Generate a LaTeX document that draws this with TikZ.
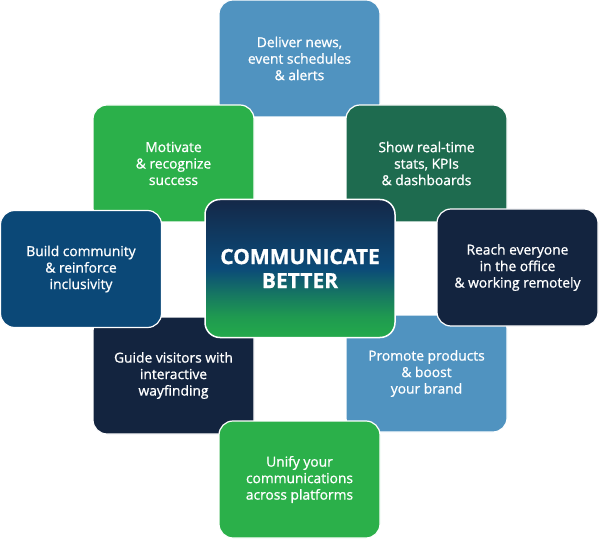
\documentclass[tikz,border=0pt]{standalone}
\usepackage{fontspec}
\setmainfont{Open Sans}
\newfontfamily\boxfont{Open Sans}[FakeBold=1]
\newfontfamily\hubfont{Open Sans Bold}[FakeBold=0.8]
\definecolor{lblue}{HTML}{5093C0}
\definecolor{lgreen}{HTML}{2BB04A}
\definecolor{dgreen}{HTML}{1E6B4F}
\definecolor{dblue}{HTML}{0B4877}
\definecolor{navy}{HTML}{13243F}
\definecolor{cTop}{HTML}{142848}
\definecolor{cMid}{HTML}{0B4A78}
\definecolor{cTeal}{HTML}{177A60}
\definecolor{cGr}{HTML}{1F9A50}
\definecolor{cBot}{HTML}{24AA4B}
\pgfdeclareverticalshading{centershade}{100bp}{color(0bp)=(cBot); color(25bp)=(cBot); color(32.5bp)=(cGr); color(40bp)=(cTeal); color(50bp)=(cMid); color(75bp)=(cTop); color(100bp)=(cTop)}
\begin{document}
\begin{tikzpicture}[x=1pt,y=-1pt,
  card/.style={draw=white, line width=1.2pt, rounded corners=14pt,
    minimum width=161pt, minimum height=117pt, text=white, align=center,
    font=\boxfont\fontsize{13.8}{16.5}\selectfont, inner sep=0pt},
  hub/.style={draw=white, line width=1.5pt, rounded corners=15pt,
    minimum width=190pt, minimum height=138pt, text=white, align=center,
    shading=centershade, inner sep=0pt,
    font=\hubfont\fontsize{21}{24}\selectfont}]
\useasboundingbox (0,0) rectangle (600,540);
\node[card, fill=lblue] (deliver) at (299.5,58.5) {Deliver news,\\event schedules\\\& alerts};
\node[card, fill=dgreen] (show) at (426.5,163.5) {Show real-time\\stats, KPIs\\\& dashboards};
\node[card, fill=lgreen] (motivate) at (173.5,163.5) {Motivate\\\& recognize\\success};
\node[card, fill=navy] (guide) at (173.5,375.5) {Guide visitors with\\interactive\\wayfinding};
\node[card, fill=lblue] (promote) at (426.5,373.5) {Promote products\\\& boost\\your brand};
\node[card, fill=dblue] (build) at (81,269) {Build community\\\& reinforce\\inclusivity};
\node[card, fill=navy] (reach) at (517.5,267.5) {Reach everyone\\in the office\\\& working remotely};
\node[card, fill=lgreen] (unify) at (299.5,479.5) {Unify your\\communications\\across platforms};
\node[hub] (center) at (300,268.5) {COMMUNICATE\\BETTER};
\end{tikzpicture}
\end{document}
